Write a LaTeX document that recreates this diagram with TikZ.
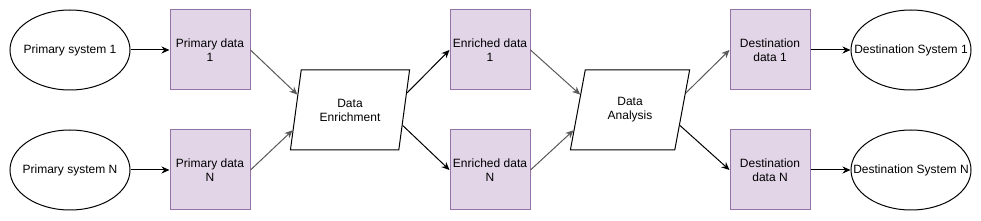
\documentclass[tikz,border=0pt]{standalone}
\usepackage{fontspec}
\setsansfont{Liberation Sans}
\usetikzlibrary{
    arrows.meta,
    calc,
    shapes.geometric
}
\definecolor{datafill}{HTML}{E1D5E7}
\definecolor{dataline}{HTML}{9673A6}
% zero-width label, so the ellipse keeps its minimum size
\newcommand{\syslabel}[1]{\makebox[0pt]{#1}}
\tikzset{
    % --- Source / sink system (ellipse) ---
    system/.style = {
        ellipse, draw, line width=1pt,
        minimum width=120pt, minimum height=80pt,
        inner sep=0pt
    },
    % --- Data set (purple square) ---
    dataset/.style = {
        rectangle, draw=dataline, fill=datafill, line width=1pt,
        minimum width=80pt, minimum height=80pt,
        inner sep=0pt, align=center
    },
    % --- Processing step (parallelogram) ---
    process/.style = {
        trapezium, draw, line width=1pt,
        trapezium left angle=73.3, trapezium right angle=106.7,
        trapezium stretches=true,
        minimum width=120pt, minimum height=80pt,
        inner sep=0pt, align=center
    },
    % --- Flow arrows ---
    flow/.style = {
        -{Stealth[length=8pt, width=7pt]}, line width=1pt
    },
    faint flow/.style = {
        flow, black!65
    }
}

\begin{document}
\begin{tikzpicture}[
    x=1pt, y=-1pt,
    font=\sffamily\fontsize{12}{14}\selectfont
]
\useasboundingbox (0,0) rectangle (981,221);

% ---------------------------------------------------------
% Primary systems and their data
% ---------------------------------------------------------
\node[system] (Src_1) at (70, 50) {\syslabel{Primary system 1}};
\node[system] (Src_N) at (70, 170) {\syslabel{Primary system N}};

\node[dataset] (Prim_1) at (210, 50) {Primary data\\1};
\node[dataset] (Prim_N) at (210, 170) {Primary data\\N};

% ---------------------------------------------------------
% Enrichment step and enriched data
% ---------------------------------------------------------
\node[process] (Enrich) at (350, 110) {Data\\Enrichment};

\node[dataset] (Enr_1) at (490, 50) {Enriched data\\1};
\node[dataset] (Enr_N) at (490, 170) {Enriched data\\N};

% ---------------------------------------------------------
% Analysis step and destination data
% ---------------------------------------------------------
\node[process] (Analysis) at (630, 110) {Data\\Analysis};

\node[dataset] (Dst_1) at (770, 50) {Destination\\data 1};
\node[dataset] (Dst_N) at (770, 170) {Destination\\data N};

\node[system] (Sink_1) at (911, 50) {\syslabel{Destination System 1}};
\node[system] (Sink_N) at (911, 170) {\syslabel{Destination System N}};

% ---------------------------------------------------------
% Connections
% ---------------------------------------------------------
\draw[flow] (Src_1) -- (Prim_1);
\draw[flow] (Src_N) -- (Prim_N);

\draw[faint flow] (Prim_1.east)
    -- ($(Enrich.bottom left corner)!0.69!(Enrich.top left corner)$);
\draw[faint flow] (Prim_N.east)
    -- ($(Enrich.bottom left corner)!0.25!(Enrich.top left corner)$);

\draw[flow] ($(Enrich.bottom right corner)!0.71!(Enrich.top right corner)$)
    -- (Enr_1.west);
\draw[flow] ($(Enrich.bottom right corner)!0.31!(Enrich.top right corner)$)
    -- (Enr_N.west);

\draw[faint flow] (Enr_1.east)
    -- ($(Analysis.bottom left corner)!0.69!(Analysis.top left corner)$);
\draw[faint flow] (Enr_N.east)
    -- ($(Analysis.bottom left corner)!0.25!(Analysis.top left corner)$);

\draw[faint flow] ($(Analysis.bottom right corner)!0.71!(Analysis.top right corner)$)
    -- (Dst_1.west);
\draw[flow] ($(Analysis.bottom right corner)!0.31!(Analysis.top right corner)$)
    -- (Dst_N.west);

\draw[flow] (Dst_1) -- (Sink_1);
\draw[flow] (Dst_N) -- (Sink_N);

\end{tikzpicture}
\end{document}
